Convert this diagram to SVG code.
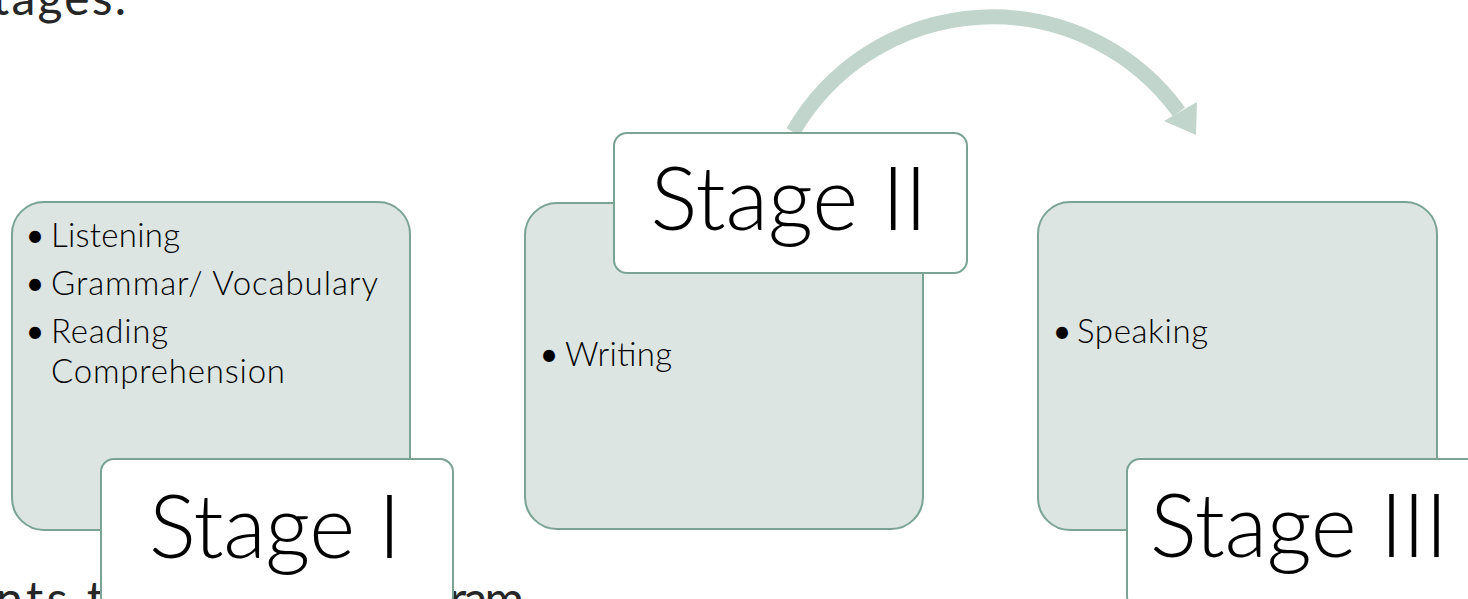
<svg xmlns="http://www.w3.org/2000/svg" width="1468" height="599" viewBox="0 0 1468 599">
  <style>
    .bg { font-family: Lato, "Liberation Sans", sans-serif; font-size: 48px; fill: #262626; }
    .box { fill: #dce5e2; stroke: #7aa393; stroke-width: 2; }
    .lbl { fill: #ffffff; stroke: #7aa393; stroke-width: 2; }
    .bt { font-family: Lato, "Liberation Sans", sans-serif; font-weight: 300; font-size: 33px; fill: #000000; }
    .bul { font-family: Lato, "Liberation Sans", sans-serif; font-size: 32px; fill: #000000; text-anchor: middle; }
    .st { font-family: Lato, "Liberation Sans", sans-serif; font-weight: 300; font-size: 88px; fill: #000000; text-anchor: middle; }
  </style>
  <rect width="1468" height="599" fill="#ffffff"/>
  <text class="bg" x="-8" y="15" textLength="134">tages.</text>
  <text class="bg" x="-4" y="616" textLength="108">nts t</text>
  <text class="bg" x="449" y="616" textLength="75">ram</text>

  <g id="connectors">
    <path d="M 793 132 A 230.4 230.4 0 0 1 1179 112" fill="none" stroke="#c2d5cd" stroke-width="15"/>
    <polygon points="1164,121 1197,102 1196,135" fill="#c2d5cd"/>
  </g>

  <g id="stage1-content">
    <rect class="box" x="12" y="202" width="398" height="328" rx="32"/>
    <text class="bul" x="35" y="247">•</text>
    <text class="bt" x="51" y="247" textLength="129">Listening</text>
    <text class="bul" x="35" y="295">•</text>
    <text class="bt" x="51" y="295" textLength="327">Grammar/ Vocabulary</text>
    <text class="bul" x="35" y="343">•</text>
    <text class="bt" x="51" y="343" textLength="117">Reading</text>
    <text class="bt" x="51" y="383" textLength="234">Comprehension</text>
  </g>
  <g id="stage1-label">
    <rect class="lbl" x="101" y="459" width="352" height="150" rx="13"/>
    <text class="st" x="275" y="558" textLength="252">Stage I</text>
  </g>

  <g id="stage2-content">
    <rect class="box" x="525" y="203" width="398" height="326" rx="32"/>
    <text class="bul" x="549" y="366">•</text>
    <text class="bt" x="565" y="366" textLength="107">Writing</text>
  </g>
  <g id="stage2-label">
    <rect class="lbl" x="614" y="133" width="353" height="140" rx="13"/>
    <text class="st" x="789" y="230" textLength="277">Stage II</text>
  </g>

  <g id="stage3-content">
    <rect class="box" x="1038" y="202" width="399" height="328" rx="32"/>
    <text class="bul" x="1062" y="343">•</text>
    <text class="bt" x="1077" y="343" textLength="131">Speaking</text>
  </g>
  <g id="stage3-label">
    <rect class="lbl" x="1127" y="459" width="353" height="150" rx="13"/>
    <text class="st" x="1299" y="557" textLength="298">Stage III</text>
  </g>
</svg>
